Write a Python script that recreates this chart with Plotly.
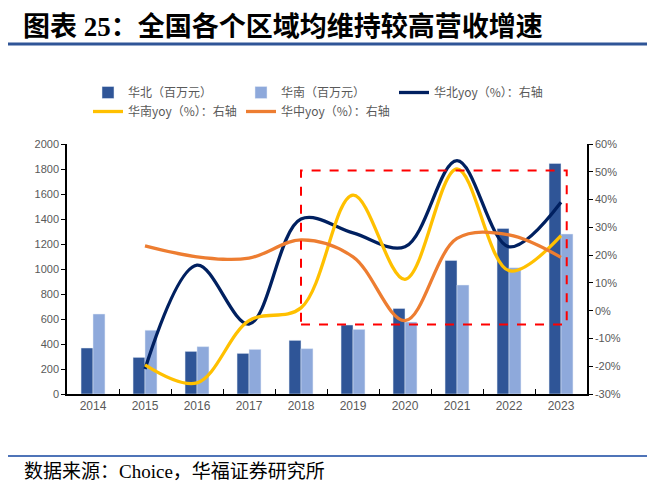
import plotly.graph_objects as go

years = ["2014", "2015", "2016", "2017", "2018", "2019", "2020", "2021", "2022", "2023"]
north_rev = [368, 293, 341, 325, 429, 552, 685, 1069, 1325, 1845]
south_rev = [640, 510, 379, 357, 363, 517, 576, 872, 1011, 1280]
north_yoy = [None, -21, 16.4, -4.8, 33, 28, 23, 54, 23, 39]
south_yoy = [None, -19.5, -26, -3.6, 1, 41.6, 11.3, 51, 14.4, 27]
central_yoy = [None, 23.3, 19.4, 18.9, 25.5, 19.4, -3.6, 26, 27.3, 19.2]

left_ticks = [0, 200, 400, 600, 800, 1000, 1200, 1400, 1600, 1800, 2000]
right_ticks = [-30, -20, -10, 0, 10, 20, 30, 40, 50, 60]
right_labels = ["-30%", "-20%", "-10%", "0%", "10%", "20%", "30%", "40%", "50%", "60%"]

title_text = "图表 25：全国各个区域均维持较高营收增速"
source_text = "数据来源：Choice，华福证券研究所"

C_DARK = "#2F5597"
C_LIGHT = "#8EA9DB"
C_NAVY = "#002060"
C_YELLOW = "#FFC000"
C_ORANGE = "#ED7D31"

# page body has an 8px default margin: size the figure so it fits the 660x494 window
BODY = 8
W, H = 660 - 2 * BODY, 494 - 2 * BODY

fig = go.Figure()
fig.add_trace(go.Bar(x=years, y=north_rev, name="华北（百万元）", marker_color=C_DARK))
fig.add_trace(go.Bar(x=years, y=south_rev, name="华南（百万元）", marker_color=C_LIGHT))
fig.add_trace(go.Scatter(x=years, y=north_yoy, name="华北yoy（%）：右轴", yaxis="y2", mode="lines",
                         line=dict(color=C_NAVY, width=3.3, shape="spline", smoothing=1.0)))
fig.add_trace(go.Scatter(x=years, y=south_yoy, name="华南yoy（%）：右轴", yaxis="y2", mode="lines",
                         line=dict(color=C_YELLOW, width=3.3, shape="spline", smoothing=1.0)))
fig.add_trace(go.Scatter(x=years, y=central_yoy, name="华中yoy（%）：右轴", yaxis="y2", mode="lines",
                         line=dict(color=C_ORANGE, width=3.3, shape="spline", smoothing=1.0)))

tick_font = dict(family="Liberation Sans, Arial", size=11, color="#595959")

fig.update_layout(
    width=W, height=H,
    margin=dict(l=67 - BODY, r=660 - 587 - BODY, t=144 - BODY, b=494 - 394 - BODY, autoexpand=False),
    paper_bgcolor="white", plot_bgcolor="white",
    barmode="group", bargap=0.54, bargroupgap=0,
    showlegend=True,
    legend=dict(orientation="h", x=(88 - 67) / 520, y=(394 - 78) / 250, xanchor="left", yanchor="top",
                font=dict(family="Noto Sans CJK SC", size=12, color="#595959"),
                entrywidth=108, entrywidthmode="pixels", traceorder="normal",
                bgcolor="rgba(0,0,0,0)", tracegroupgap=0),
    xaxis=dict(type="category", showline=True, linecolor="#000000", linewidth=1.5,
               ticks="inside", tickson="boundaries", ticklen=5, tickcolor="#000000",
               tickfont=dict(family="Liberation Sans, Arial", size=12, color="#595959"),
               showgrid=False, zeroline=False, automargin=False),
    yaxis=dict(range=[0, 2000], tickvals=left_ticks, showline=True, linecolor="#000000",
               linewidth=1.5, ticks="outside", ticklen=4, tickcolor="#000000",
               tickfont=tick_font, showgrid=False, zeroline=False, automargin=False),
    yaxis2=dict(range=[-30, 60], tickvals=right_ticks, ticktext=right_labels, overlaying="y",
                side="right", showline=True, linecolor="#000000", linewidth=1.5,
                ticks="outside", ticklen=4, tickcolor="#000000", tickfont=tick_font,
                showgrid=False, zeroline=False, automargin=False),
    title=dict(text="<b>" + title_text + "</b>", x=(23 - BODY) / W, xref="container", xanchor="left",
               y=1 - (27 - BODY) / H, yref="container", yanchor="middle",
               font=dict(family="Liberation Serif, Noto Sans CJK SC", size=27, color="#000000")),
)

# red dashed highlight box (category index / right-axis units)
box_x = [4, 9.11]
box_y = [-5, 50.5]
fig.add_shape(type="rect", xref="x", yref="y2", x0=box_x[0], x1=box_x[1], y0=box_y[0], y1=box_y[1],
              line=dict(color="#FF0000", width=2, dash="dash"), fillcolor="rgba(0,0,0,0)", layer="above")

# header & footer rules
fig.add_shape(type="line", xref="paper", yref="paper", x0=(5 - 67) / 520, x1=(647 - 67) / 520,
              y0=(394 - 44) / 250, y1=(394 - 44) / 250, line=dict(color="#2F5597", width=3))
fig.add_shape(type="line", xref="paper", yref="paper", x0=(5 - 67) / 520, x1=(647 - 67) / 520,
              y0=(394 - 456) / 250, y1=(394 - 456) / 250, line=dict(color="#4F74B8", width=2))

fig.add_annotation(text=source_text, xref="paper", yref="paper", x=(22 - 67) / 520, y=(394 - 471) / 250,
                   xanchor="left", yanchor="middle", showarrow=False,
                   font=dict(family="Liberation Serif, Noto Sans CJK SC", size=19, color="#000000"))

fig.write_html("out.html")
